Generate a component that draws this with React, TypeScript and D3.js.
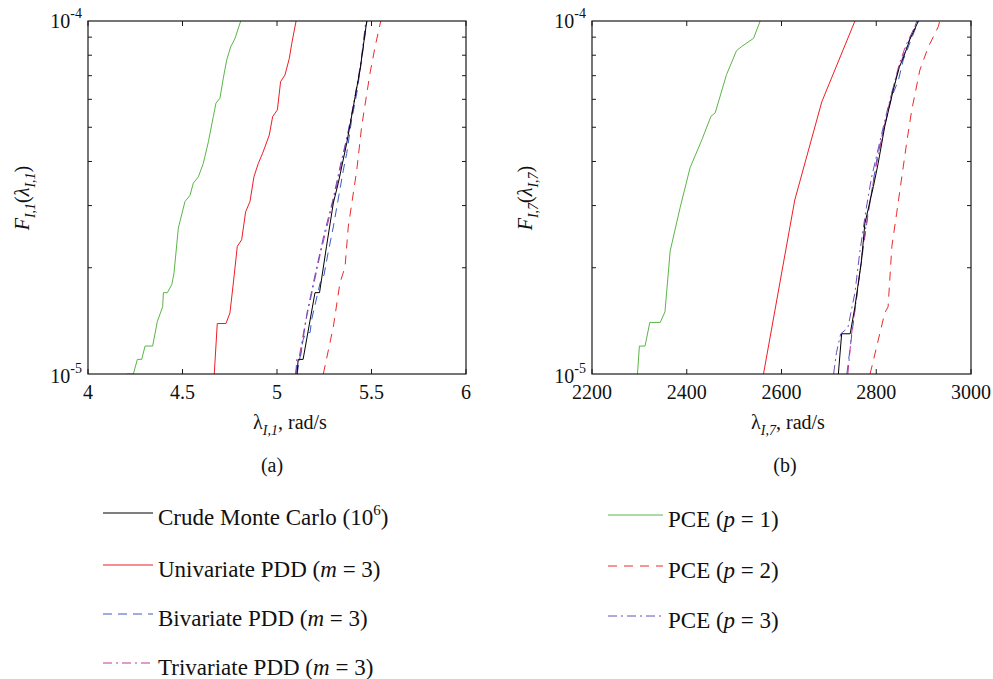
import { useEffect, useRef } from "react";
import * as d3 from "d3";

// F values below are in units of 1e-5
const F_UNIT = 1e-5;

const aTicks = [4, 4.5, 5, 5.5, 6];
const bTicks = [2200, 2400, 2600, 2800, 3000];
const yMinor = [2, 3, 4, 5, 6, 7, 8, 9];

// panel (a): lambda_I,1 [rad/s], F
const aCrudeMC = [[5.106, 1.0], [5.112, 1.1], [5.138, 1.1], [5.201, 1.7], [5.225, 1.7], [5.262, 2.3], [5.298, 3.05], [5.324, 3.47], [5.369, 4.51], [5.404, 5.72], [5.439, 7.26], [5.475, 10.0]];
const aUniPDD = [[4.668, 1.0], [4.684, 1.39], [4.730, 1.39], [4.751, 1.49], [4.769, 1.81], [4.790, 2.30], [4.813, 2.40], [4.834, 2.88], [4.857, 3.08], [4.878, 3.62], [4.901, 3.95], [4.924, 4.22], [4.959, 4.75], [4.977, 5.36], [5.002, 5.60], [5.019, 6.73], [5.042, 7.03], [5.065, 7.83], [5.078, 8.63], [5.101, 10.0]];
const aBiPDD = [[5.106, 1.0], [5.138, 1.25], [5.153, 1.31], [5.175, 1.31], [5.185, 1.44], [5.228, 1.81], [5.249, 1.91], [5.270, 2.20], [5.298, 2.61], [5.323, 3.11], [5.351, 3.78], [5.369, 4.22], [5.395, 5.25], [5.422, 6.24], [5.448, 7.76], [5.476, 10.0]];
const aTriPDD = [[5.100, 1.0], [5.104, 1.1], [5.118, 1.12], [5.150, 1.4], [5.190, 1.75], [5.230, 2.2], [5.278, 2.8], [5.320, 3.5], [5.360, 4.4], [5.400, 5.6], [5.438, 7.2], [5.473, 10.0]];
const aPce1 = [[4.204, 1.0], [4.240, 1.0], [4.261, 1.1], [4.284, 1.1], [4.302, 1.2], [4.342, 1.2], [4.367, 1.41], [4.395, 1.55], [4.399, 1.7], [4.420, 1.7], [4.443, 1.79], [4.455, 1.93], [4.478, 2.59], [4.513, 3.08], [4.540, 3.21], [4.557, 3.47], [4.584, 3.62], [4.610, 3.95], [4.637, 4.55], [4.663, 5.36], [4.677, 5.85], [4.698, 6.04], [4.716, 6.89], [4.734, 7.76], [4.755, 8.45], [4.778, 8.93], [4.808, 10.0]];
const aPce2 = [[5.245, 1.0], [5.298, 1.36], [5.333, 1.81], [5.360, 2.01], [5.377, 2.61], [5.422, 3.78], [5.448, 5.03], [5.492, 7.11], [5.519, 8.45], [5.549, 10.0]];
const aPce3 = [[5.098, 1.0], [5.108, 1.08], [5.122, 1.1], [5.160, 1.5], [5.205, 1.95], [5.250, 2.5], [5.295, 3.1], [5.335, 3.9], [5.375, 4.8], [5.410, 6.0], [5.445, 7.7], [5.470, 10.0]];

// panel (b): lambda_I,7 [rad/s], F
const bCrudeMC = [[2720, 1.0], [2727, 1.3], [2745, 1.3], [2755, 1.55], [2769, 2.10], [2776, 2.67], [2794, 3.40], [2804, 3.95], [2818, 5.03], [2836, 6.38], [2849, 7.43], [2857, 7.85], [2871, 8.87], [2889, 10.0]];
const bUniPDD = [[2562, 1.0], [2628, 3.11], [2685, 5.90], [2755, 10.0]];
const bBiPDD = [[2738, 1.0], [2755, 1.52], [2773, 2.30], [2783, 2.85], [2801, 4.04], [2815, 4.91], [2833, 6.11], [2847, 6.81], [2857, 7.76], [2889, 10.0]];
const bTriPDD = [[2740, 1.0], [2748, 1.3], [2760, 1.7], [2772, 2.3], [2785, 3.0], [2800, 3.9], [2815, 4.9], [2832, 6.2], [2848, 7.5], [2862, 8.5], [2887, 10.0]];
const bPce1 = [[2296, 1.0], [2300, 1.2], [2312, 1.2], [2322, 1.4], [2344, 1.4], [2354, 1.5], [2365, 2.23], [2386, 2.96], [2407, 3.84], [2432, 4.61], [2451, 5.37], [2460, 5.49], [2484, 7.05], [2505, 8.24], [2516, 8.47], [2541, 8.93], [2555, 10.0]];
const bPce2 = [[2787, 1.0], [2818, 1.49], [2825, 1.55], [2833, 2.30], [2843, 2.85], [2854, 3.62], [2864, 4.50], [2875, 5.60], [2892, 7.26], [2910, 8.45], [2931, 9.64], [2934, 10.0]];
const bPce3 = [[2710, 1.0], [2716, 1.15], [2725, 1.3], [2740, 1.35], [2755, 1.7], [2765, 2.2], [2778, 2.9], [2790, 3.6], [2805, 4.4], [2822, 5.5], [2840, 6.8], [2860, 8.2], [2886, 10.0]];

const STYLES = {
  crude: { color: "#000000", dash: null },
  uni: { color: "#ee1d23", dash: null },
  bi: { color: "#3a5ac4", dash: "9,6" },
  tri: { color: "#c2389e", dash: "9,4,2,4" },
  pce1: { color: "#5ab646", dash: null },
  pce2: { color: "#ea2a2a", dash: "9,7" },
  pce3: { color: "#6a4db8", dash: "9,4,2,4" },
};

// legend labels: [text, style] parts ("sup" / "i")
const legendLeft = [
  { key: "crude", parts: [["Crude Monte Carlo (10", ""], ["6", "sup"], [")", ""]] },
  { key: "uni", parts: [["Univariate PDD (", ""], ["m", "i"], [" = 3)", ""]] },
  { key: "bi", parts: [["Bivariate PDD (", ""], ["m", "i"], [" = 3)", ""]] },
  { key: "tri", parts: [["Trivariate PDD (", ""], ["m", "i"], [" = 3)", ""]] },
];
const legendRight = [
  { key: "pce1", parts: [["PCE (", ""], ["p", "i"], [" = 1)", ""]] },
  { key: "pce2", parts: [["PCE (", ""], ["p", "i"], [" = 2)", ""]] },
  { key: "pce3", parts: [["PCE (", ""], ["p", "i"], [" = 3)", ""]] },
];

const FONT = "'Liberation Serif', 'Times New Roman', serif";

function drawPanel(svg, opts) {
  const { id, left, right, top, bottom, domain, ticks, series, sub, caption, captionX, titleX, ylabX } = opts;
  const x = d3.scaleLinear().domain(domain).range([left, right]);
  const y = d3.scaleLog().domain([1e-5, 1e-4]).range([bottom, top]);

  svg.append("clipPath").attr("id", id)
    .append("rect").attr("x", left).attr("y", top)
    .attr("width", right - left).attr("height", bottom - top);

  const g = svg.append("g").attr("clip-path", `url(#${id})`);
  const line = d3.line().x(d => x(d[0])).y(d => y(d[1] * F_UNIT));

  ["pce1", "uni", "pce2", "bi", "tri", "pce3", "crude"].forEach(k => {
    g.append("path")
      .attr("d", line(series[k]))
      .attr("fill", "none")
      .attr("stroke", STYLES[k].color)
      .attr("stroke-width", 1)
      .attr("stroke-dasharray", STYLES[k].dash);
  });

  // frame
  svg.append("rect")
    .attr("x", left).attr("y", top)
    .attr("width", right - left).attr("height", bottom - top)
    .attr("fill", "none").attr("stroke", "#1a1a1a").attr("stroke-width", 1.2);

  const tl = 5;
  ticks.forEach(t => {
    const px = x(t);
    svg.append("line").attr("x1", px).attr("x2", px).attr("y1", bottom).attr("y2", bottom - tl)
      .attr("stroke", "#1a1a1a");
    svg.append("line").attr("x1", px).attr("x2", px).attr("y1", top).attr("y2", top + tl)
      .attr("stroke", "#1a1a1a");
    svg.append("text").attr("x", px).attr("y", 399)
      .attr("text-anchor", "middle").attr("font-size", 20).attr("font-family", FONT)
      .attr("fill", "#111").text(String(t));
  });
  yMinor.forEach(m => {
    const py = y(m * F_UNIT);
    svg.append("line").attr("x1", left).attr("x2", left + 4).attr("y1", py).attr("y2", py)
      .attr("stroke", "#1a1a1a");
    svg.append("line").attr("x1", right).attr("x2", right - 4).attr("y1", py).attr("y2", py)
      .attr("stroke", "#1a1a1a");
  });

  // y tick labels 10^-4 and 10^-5
  [[-4, top + 7], [-5, bottom + 9]].forEach(([e, by]) => {
    const t = svg.append("text").attr("x", left - 6).attr("y", by)
      .attr("text-anchor", "end").attr("font-size", 20).attr("font-family", FONT).attr("fill", "#111");
    t.append("tspan").text("10");
    t.append("tspan").attr("dy", -10).attr("font-size", 14).text(`-${-e}`);
  });

  // x title
  const xt = svg.append("text").attr("x", titleX).attr("y", 429)
    .attr("text-anchor", "middle").attr("font-size", 20).attr("font-family", FONT).attr("fill", "#111");
  xt.append("tspan").text("λ");
  xt.append("tspan").attr("dy", 6).attr("font-size", 14).attr("font-style", "italic").text(sub);
  xt.append("tspan").attr("dy", -6).text(", rad/s");

  // y title
  const yt = svg.append("text")
    .attr("transform", `translate(${ylabX},198) rotate(-90)`)
    .attr("text-anchor", "middle").attr("font-size", 20).attr("font-family", FONT).attr("fill", "#111");
  yt.append("tspan").attr("font-style", "italic").text("F");
  yt.append("tspan").attr("dy", 6).attr("font-size", 14).attr("font-style", "italic").text(sub);
  yt.append("tspan").attr("dy", -6).text("(");
  yt.append("tspan").attr("font-style", "italic").text("λ");
  yt.append("tspan").attr("dy", 6).attr("font-size", 14).attr("font-style", "italic").text(sub);
  yt.append("tspan").attr("dy", -6).text(")");

  svg.append("text").attr("x", captionX).attr("y", 472)
    .attr("text-anchor", "middle").attr("font-size", 20).attr("font-family", FONT).attr("fill", "#111")
    .text(caption);
}

function drawLegend(svg, items, x0, x1, tx, rows) {
  items.forEach((it, i) => {
    const yy = rows[i];
    const st = STYLES[it.key];
    svg.append("line").attr("x1", x0).attr("x2", x1).attr("y1", yy).attr("y2", yy)
      .attr("stroke", st.color).attr("stroke-width", 1).attr("stroke-dasharray", st.dash);
    const t = svg.append("text").attr("x", tx).attr("y", yy + 12)
      .attr("font-size", 23).attr("font-family", FONT).attr("fill", "#111");
    let raised = false;
    it.parts.forEach(([s, kind]) => {
      const ts = t.append("tspan").text(s);
      if (kind === "sup") {
        ts.attr("dy", -10).attr("font-size", 15);
        raised = true;
      } else {
        if (raised) { ts.attr("dy", 10); raised = false; }
        if (kind === "i") ts.attr("font-style", "italic");
      }
    });
  });
}

export default function App() {
  const svgRef = useRef(null);

  useEffect(() => {
    const svg = d3.select(svgRef.current);
    svg.selectAll("*").remove();

    drawPanel(svg, {
      id: "clipA", left: 88, right: 466, top: 21, bottom: 374,
      domain: [4, 6], ticks: aTicks,
      series: { crude: aCrudeMC, uni: aUniPDD, bi: aBiPDD, tri: aTriPDD, pce1: aPce1, pce2: aPce2, pce3: aPce3 },
      sub: "I,1", caption: "(a)", captionX: 272, titleX: 290, ylabX: 29,
    });
    drawPanel(svg, {
      id: "clipB", left: 592, right: 971, top: 21, bottom: 374,
      domain: [2200, 3000], ticks: bTicks,
      series: { crude: bCrudeMC, uni: bUniPDD, bi: bBiPDD, tri: bTriPDD, pce1: bPce1, pce2: bPce2, pce3: bPce3 },
      sub: "I,7", caption: "(b)", captionX: 785, titleX: 788, ylabX: 532,
    });

    drawLegend(svg, legendLeft, 103, 153, 158, [513, 565, 614, 663]);
    drawLegend(svg, legendRight, 608, 663, 668, [515, 566, 616]);
  }, []);

  return (
    <svg
      ref={svgRef}
      width={993}
      height={679}
      style={{ position: "absolute", left: 0, top: 0, background: "#fff", display: "block" }}
    />
  );
}
